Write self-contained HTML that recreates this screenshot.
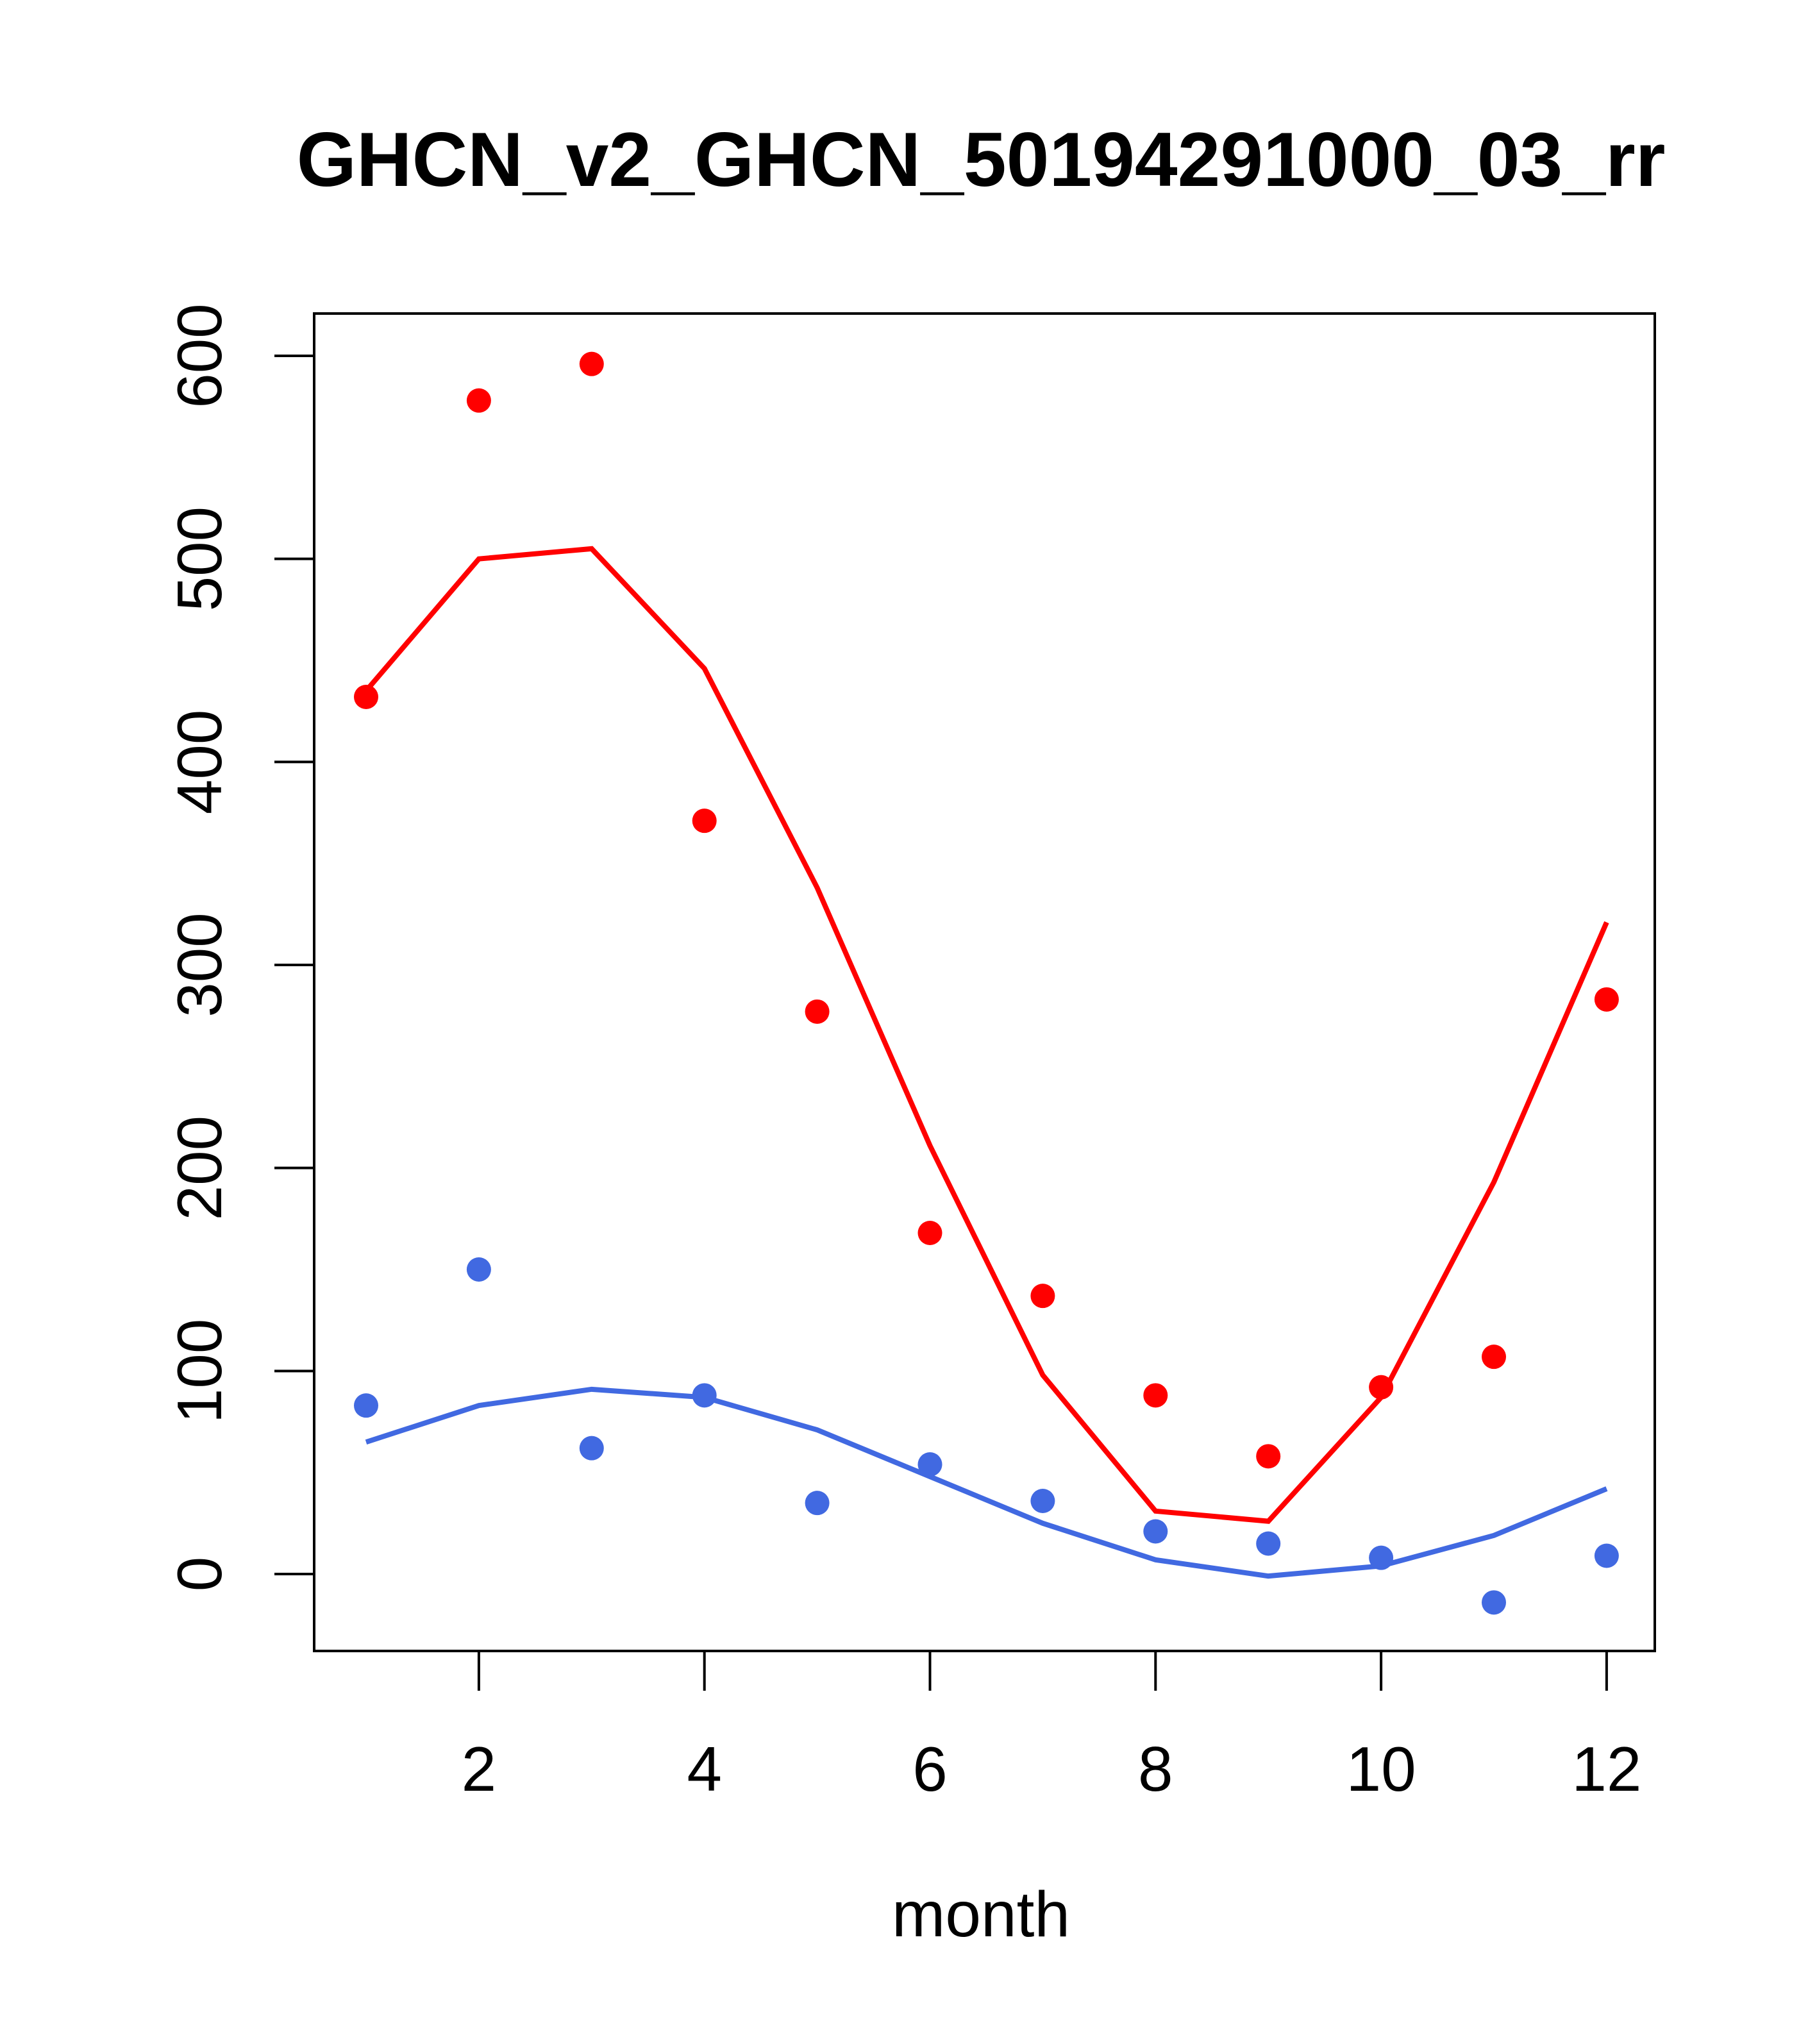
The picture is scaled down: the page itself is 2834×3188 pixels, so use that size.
<!DOCTYPE html>
<html><head><meta charset="utf-8"><style>body{margin:0;background:#fff}svg{display:block}</style></head>
<body>
<svg id="chart" width="2834" height="3188" viewBox="0 0 2834 3188" xmlns="http://www.w3.org/2000/svg" font-family="Liberation Sans, sans-serif">
<rect width="2834" height="3188" fill="#fff"/>
<text x="1530" y="290" font-size="120" font-weight="bold" text-anchor="middle">GHCN_v2_GHCN_50194291000_03_rr</text>
<rect x="490" y="489" width="2091" height="2086" fill="none" stroke="#000" stroke-width="4"/>
<text x="1530" y="3020" font-size="100" text-anchor="middle">month</text>
<g id="axes"></g><g id="series"></g>
</svg>
<script>
const months=[1,2,3,4,5,6,7,8,9,10,11,12];
const redPoints=[432,578,596,371,277,168,137,88,58,92,107,283];
const redLine=[435,500,505,446,338,211,98,31,26,87,193,321];
const bluePoints=[83,150,62,88,35,54,36,21,15,8,-14,9];
const blueLine=[65,83,91,87,71,48,25,7,-1,4,19,42];
const xTicks=[2,4,6,8,10,12];
const yTicks=[0,100,200,300,400,500,600];
const NS='http://www.w3.org/2000/svg';
const xs=m=>571+(m-1)*175.9;
const ys=v=>2455-v*(1900/600);
function mk(t,a,p){const e=document.createElementNS(NS,t);for(const k in a)e.setAttribute(k,a[k]);p.appendChild(e);return e;}
const ax=document.getElementById('axes'), se=document.getElementById('series');
mk('line',{x1:xs(2),x2:xs(12),y1:2575,y2:2575,stroke:'#000','stroke-width':4},ax);
mk('line',{x1:490,x2:490,y1:ys(0),y2:ys(600),stroke:'#000','stroke-width':4},ax);
xTicks.forEach(t=>{
 const l=mk('line',{x1:xs(t),x2:xs(t),y1:2575,y2:2637,stroke:'#000','stroke-width':4},ax);
 
 
 const tx=mk('text',{x:xs(t),y:2793,'font-size':98,'text-anchor':'middle'},ax);tx.textContent=t;
 
 
});
yTicks.forEach(t=>{
 const l=mk('line',{x1:490,x2:428,y1:ys(t),y2:ys(t),stroke:'#000','stroke-width':4},ax);
 
 
 const tx=mk('text',{x:0,y:0,'font-size':98,'text-anchor':'middle',transform:`translate(345,${ys(t)}) rotate(-90)`},ax);tx.textContent=t;
 
 
});
function line(vals,c,name){
 const p=mk('polyline',{points:vals.map((v,i)=>xs(months[i])+','+ys(v)).join(' '),fill:'none',stroke:c,'stroke-width':8},se);
 
 
}
function pts(vals,c,name){
 vals.forEach((v,i)=>{const e=mk('circle',{cx:xs(months[i]),cy:ys(v),r:19,fill:c},se);
 
 });
}
line(redLine,'#ff0000','red-line');
line(blueLine,'#4169e1','blue-line');
pts(redPoints,'#ff0000','red-point');
pts(bluePoints,'#4169e1','blue-point');
</script>
</body></html>
